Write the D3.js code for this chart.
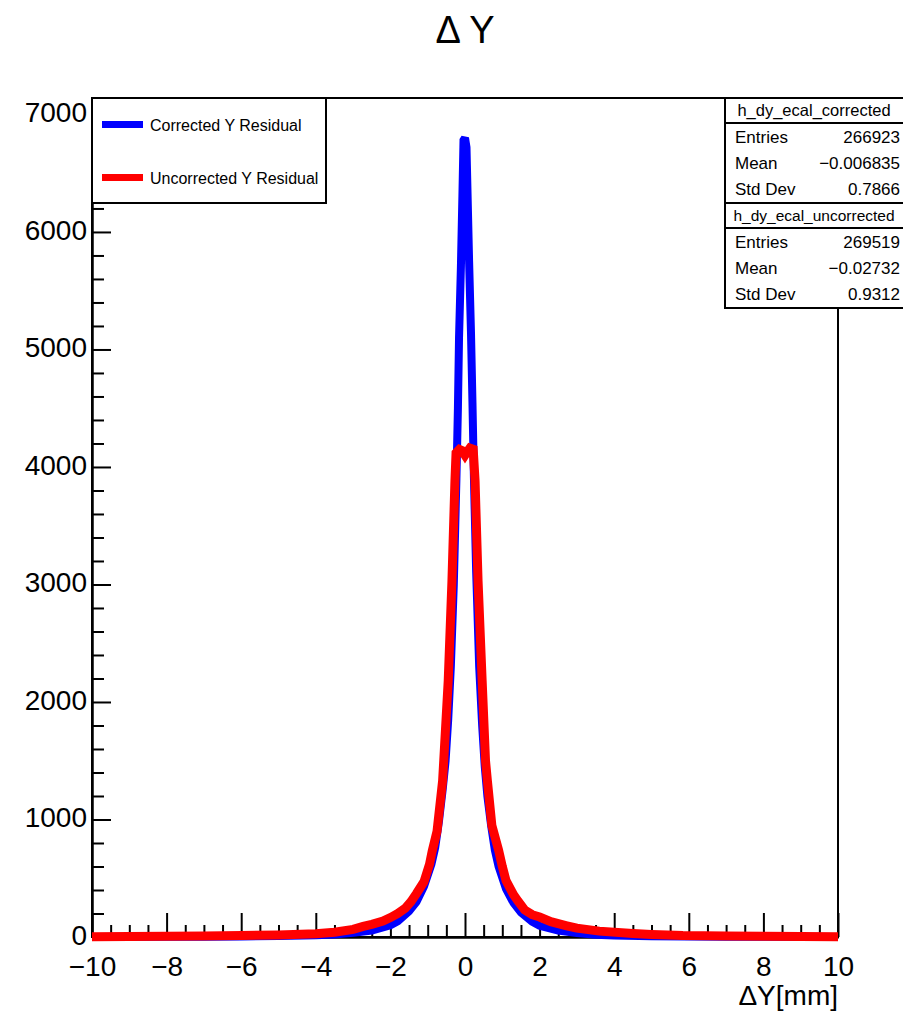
<!DOCTYPE html>
<html>
<head>
<meta charset="utf-8">
<script src="https://cdn.jsdelivr.net/npm/d3@7"></script>
<style>
  body { margin: 0; background: #fff; }
  svg { font-family: "Liberation Sans", Arial, sans-serif; }
</style>
</head>
<body>
<svg id="chart" width="903" height="1011"></svg>
<script>
// histogram outlines (x in mm, counts)
const correctedX = [-10, -8, -7, -6, -5, -4, -3.5, -3, -2.5, -2, -1.8, -1.5, -1.3, -1.1, -0.9, -0.8, -0.7, -0.6, -0.52, -0.45, -0.38, -0.3, -0.23, -0.19, -0.16, -0.11, -0.07, -0.04, 0.0, 0.04, 0.07, 0.11, 0.16, 0.2, 0.24, 0.3, 0.38, 0.46, 0.53, 0.6, 0.7, 0.8, 0.9, 1.1, 1.3, 1.5, 1.8, 2, 2.5, 3, 3.5, 4, 5, 6, 7, 8, 10];
const correctedY = [1, 2, 3, 5, 8, 15, 22, 35, 55, 100, 135, 220, 300, 430, 620, 760, 980, 1250, 1500, 1850, 2300, 3000, 3900, 4500, 5100, 5700, 6300, 6780, 6800, 6720, 6300, 5750, 5150, 4550, 3900, 3100, 2300, 1800, 1450, 1200, 950, 740, 600, 410, 290, 210, 130, 95, 55, 33, 20, 13, 7, 4, 3, 2, 1];

const uncorrectedX = [-10, -8, -7, -6, -5, -4, -3.5, -3, -2.73, -2.5, -2.2, -2, -1.8, -1.6, -1.45, -1.3, -1.1, -0.95, -0.88, -0.75, -0.6, -0.57, -0.45, -0.35, -0.27, -0.24, -0.15, -0.08, 0, 0.06, 0.13, 0.22, 0.27, 0.35, 0.46, 0.55, 0.6, 0.72, 0.9, 1.0, 1.1, 1.3, 1.42, 1.6, 1.8, 2.0, 2.3, 2.73, 3, 3.6, 4.5, 5, 5.84, 7, 8, 10];
const uncorrectedY = [3, 6, 8, 12, 18, 28, 40, 65, 90, 108, 135, 165, 200, 245, 300, 370, 470, 620, 730, 900, 1330, 1500, 2180, 3030, 3880, 4120, 4150, 4140, 4100, 4130, 4160, 4150, 3880, 3030, 2180, 1500, 1330, 950, 740, 600, 480, 360, 306, 230, 190, 170, 130, 95, 75, 50, 30, 22, 12, 8, 6, 3];

const seriesLabels = ['Corrected Y Residual', 'Uncorrected Y Residual'];
const seriesColors = ['#0000ff', '#ff0000'];

const xTicks = [-10, -8, -6, -4, -2, 0, 2, 4, 6, 8, 10];
const yTicks = [0, 1000, 2000, 3000, 4000, 5000, 6000, 7000];

const statNames = ['h_dy_ecal_corrected', 'h_dy_ecal_uncorrected'];
const statEntries = [266923, 269519];
const statMeans = [-0.006835, -0.02732];
const statStdDevs = ['0.7866', '0.9312'];

const svg = d3.select('#chart');
const frame = { left: 92, right: 838, top: 98, bottom: 937 };

const x = d3.scaleLinear().domain([-10, 10]).range([frame.left, frame.right]);
const y = d3.scaleLinear().domain([0, 7140]).range([frame.bottom, frame.top]);

// title
svg.append('text')
    .attr('x', 465).attr('y', 43)
    .attr('text-anchor', 'middle')
    .style('font-size', '38px')
    .text('\u0394 Y');

// frame
svg.append('rect')
    .attr('x', frame.left).attr('y', frame.top)
    .attr('width', frame.right - frame.left)
    .attr('height', frame.bottom - frame.top)
    .attr('fill', 'none').attr('stroke', '#000').attr('stroke-width', 2);

// x axis, major + minor ticks
svg.append('g')
    .attr('transform', `translate(0, ${frame.bottom})`)
    .call(d3.axisBottom(x).tickValues(xTicks).tickSizeInner(-24).tickSizeOuter(0).tickPadding(19));
svg.append('g')
    .attr('transform', `translate(0, ${frame.bottom})`)
    .call(d3.axisBottom(x).tickValues(d3.range(-10, 10.01, 0.5).filter(v => v % 2 !== 0)).tickSizeInner(-12).tickSizeOuter(0).tickFormat(''));

const yAxis = svg.append('g')
    .attr('transform', `translate(${frame.left}, 0)`)
    .call(d3.axisLeft(y).tickValues(yTicks).tickFormat(d3.format('d')).tickSizeInner(-19).tickSizeOuter(0).tickPadding(5));
svg.append('g')
    .attr('transform', `translate(${frame.left}, 0)`)
    .call(d3.axisLeft(y).tickValues(d3.range(0, 7100, 200).filter(v => v % 1000 !== 0)).tickSizeInner(-12).tickSizeOuter(0).tickFormat(''));

svg.selectAll('.domain').attr('stroke', '#000').attr('stroke-width', 2);
svg.selectAll('.tick line').attr('stroke', '#000').attr('stroke-width', 2);
svg.selectAll('.tick text')
    .attr('fill', '#000')
    .style('font-family', '"Liberation Sans", Arial, sans-serif')
    .style('font-size', '28px');
yAxis.selectAll('.tick text').attr('dy', '0.26em');

// axis title
svg.append('text')
    .attr('x', frame.right).attr('y', 1005)
    .attr('text-anchor', 'end')
    .style('font-size', '28px')
    .text('\u0394Y[mm]');

// histograms
const line = d3.line()
    .x(d => x(d[0]))
    .y(d => y(d[1]));

const series = [
    d3.zip(correctedX, correctedY),
    d3.zip(uncorrectedX, uncorrectedY)
];

svg.selectAll('path.hist')
    .data(series)
    .enter()
    .append('path')
    .attr('class', 'hist')
    .attr('d', line)
    .attr('fill', 'none')
    .attr('stroke', (d, i) => seriesColors[i])
    .attr('stroke-width', (d, i) => i === 0 ? 8 : 9)
    .attr('stroke-linejoin', 'miter')
    .attr('stroke-miterlimit', 2);

// legend
svg.append('rect')
    .attr('x', 92).attr('y', 98)
    .attr('width', 234).attr('height', 105)
    .attr('fill', '#fff').attr('stroke', '#000').attr('stroke-width', 2);

const legendRows = svg.selectAll('g.legend-row')
    .data(seriesLabels)
    .enter()
    .append('g')
    .attr('class', 'legend-row')
    .attr('transform', (d, i) => `translate(0, ${124.5 + i * 53})`);

legendRows.append('line')
    .attr('x1', 102).attr('x2', 143)
    .attr('y1', 0).attr('y2', 0)
    .attr('stroke', (d, i) => seriesColors[i])
    .attr('stroke-width', 7);

legendRows.append('text')
    .attr('x', 150).attr('y', 6)
    .style('font-size', '16px')
    .text(d => d);

// stats boxes
const fmt = v => String(v).replace('-', '\u2212');
const statBoxes = svg.selectAll('g.stats')
    .data(statNames)
    .enter()
    .append('g')
    .attr('class', 'stats')
    .attr('transform', (d, i) => `translate(725, ${98 + i * 105})`);

statBoxes.append('rect')
    .attr('x', 0).attr('y', 0)
    .attr('width', 182).attr('height', 105)
    .attr('fill', '#fff').attr('stroke', '#000').attr('stroke-width', 2);

statBoxes.append('line')
    .attr('x1', 0).attr('x2', 182)
    .attr('y1', 25).attr('y2', 25)
    .attr('stroke', '#000').attr('stroke-width', 2);

statBoxes.append('text')
    .attr('x', 89).attr('y', 18)
    .attr('text-anchor', 'middle')
    .style('font-size', (d, i) => i === 0 ? '16.5px' : '15.5px')
    .text(d => d);

statBoxes.each(function (d, i) {
    const rows = [
        ['Entries', String(statEntries[i])],
        ['Mean', fmt(statMeans[i])],
        ['Std Dev', statStdDevs[i]]
    ];
    const g = d3.select(this);
    rows.forEach((r, j) => {
        g.append('text')
            .attr('x', 10).attr('y', 45 + j * 26)
            .style('font-size', '17px')
            .text(r[0]);
        g.append('text')
            .attr('x', 175).attr('y', 45 + j * 26)
            .attr('text-anchor', 'end')
            .style('font-size', '17px')
            .text(r[1]);
    });
});
</script>
</body>
</html>
